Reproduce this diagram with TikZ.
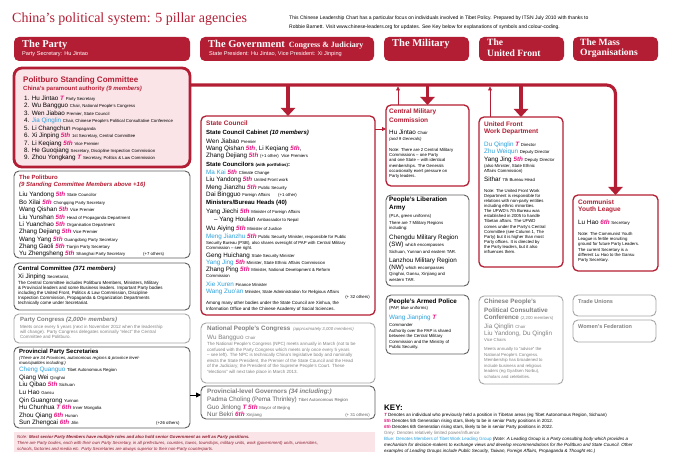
\documentclass[tikz,border=0pt]{standalone}
\usepackage{fontspec}
\setmainfont{Liberation Serif}
\setsansfont{Liberation Sans}
\usetikzlibrary{arrows.meta}
\definecolor{cred}{RGB}{180,30,52}
\definecolor{cpink}{RGB}{251,228,232}
\definecolor{cmag}{RGB}{228,20,128}
\definecolor{cblue}{RGB}{40,160,220}
\definecolor{cgray}{RGB}{128,128,128}
\definecolor{cdgray}{RGB}{95,95,95}
\definecolor{cnote}{RGB}{140,30,45}
\newcommand\zN{\fontsize{6.3}{7}\selectfont}
\newcommand\zD{\fontsize{4.3}{5}\selectfont}
\newcommand\Tm{{\color{cmag}\bfseries\itshape T}}
\newcommand\Vth{{\color{cmag}\bfseries\itshape 5th}}
\newcommand\VIth{{\color{cmag}\bfseries\itshape 6th}}
\newcommand\Lx[4]{\node[lx] (#1) at (#2,#3) {#4};}
\newcommand\Px[5]{\node[px,#5] (#1) at (#2,#3) {#4};}
\newcommand\Bx[6]{\node[#6, minimum width={(#4-#2)*1pt}, minimum height={(#5-#3)*1pt}] (#1) at ({(#2+#4)/2},{(#3+#5)/2}) {};}
\tikzset{
  lx/.style={anchor=west, inner sep=0pt, font=\sffamily\zN},
  px/.style={anchor=north west, inner sep=0pt, align=left, yshift=1.8pt, font=\sffamily\fontsize{4.5}{5.2}\selectfont},
  hd/.style={anchor=west, inner sep=0pt, font=\sffamily\bfseries\fontsize{6.5}{7}\selectfont, text=cred},
  hw/.style={anchor=west, inner sep=0pt, font=\rmfamily\bfseries\fontsize{10.5}{12}\selectfont, text=white},
  hw2/.style={anchor=west, inner sep=0pt, font=\rmfamily\bfseries\fontsize{9.6}{10}\selectfont, text=white},
  hs/.style={anchor=west, inner sep=0pt, font=\sffamily\fontsize{5.6}{6}\selectfont, text=white},
  basebox/.style={rectangle, inner sep=0pt, outer sep=0pt},
  hbox/.style={basebox, fill=cred, rounded corners=5pt},
  rbox/.style={basebox, draw=cred, line width=1.3pt, rounded corners=5pt, fill=white},
  pscb/.style={basebox, draw=cred, line width=2.8pt, rounded corners=8pt, fill=cpink},
  dbox/.style={basebox, draw=cdgray, line width=0.9pt, rounded corners=5pt, fill=white},
  gbox/.style={basebox, draw=black!35, line width=0.9pt, rounded corners=5pt, fill=white},
  nbox/.style={basebox, fill=cpink},
  mainline/.style={draw=cred, line width=3.2pt},
  bigarr/.style={mainline, -{Triangle[width=14pt,length=8pt]}},
  thinarr/.style={draw=cred, line width=0.8pt, -{Triangle[width=4pt,length=4pt]}}
}
\begin{document}
\begin{tikzpicture}[x=1pt,y=-1pt]
\useasboundingbox (0,0) rectangle (675,465);
\fill[white] (0,0) rectangle (675,465);

% title and info
\node[anchor=west, inner sep=0pt, font=\rmfamily\fontsize{14}{16}\selectfont, text=cred] (title) at (12,19) {China’s political system: 5 pillar agencies};
\Px{info}{289}{17}{This Chinese Leadership Chart has a particular focus on individuals involved in Tibet Policy. Prepared by ITSN July 2010 with thanks to\\Robbie Barnett. Visit www.chinese-leaders.org for updates. See Key below for explanations of symbols and colour-coding.}{font=\sffamily\fontsize{5}{9}\selectfont}

% header boxes
\Bx{hParty}{14}{37}{190}{61}{hbox}
\Bx{hGov}{200}{37}{374}{61}{hbox}
\Bx{hMil}{384}{37}{469}{61}{hbox}
\Bx{hUF}{479}{37}{564}{61}{hbox}
\Bx{hMass}{573}{37}{658}{61}{hbox}
\node[hw] (tParty) at (22,45) {The Party};
\node[hs] (sParty) at (22,54) {Party Secretary: Hu Jintao};
\node[hw] (tGov) at (208,45) {The Government\hspace{4pt}{\fontsize{8}{9}\selectfont Congress \& Judiciary}};
\node[hs] (sGov) at (209,54) {State President: Hu Jintao, Vice President: Xi Jinping};
\node[hw] (tMil) at (392,44) {The Military};
\node[hw2] (tUF1) at (487,42.5) {The};
\node[hw2] (tUF2) at (487,52.8) {United Front};
\node[hw2] (tMa1) at (580,42.5) {The Mass};
\node[hw2] (tMa2) at (580,52.8) {Organisations};

% content boxes
\Bx{psc}{14}{68}{190}{167}{pscb}
\Bx{pb}{14}{171}{190}{258}{dbox}
\Bx{cc}{14}{263}{190}{310}{dbox}
\Bx{pc}{14}{314}{190}{343}{gbox}
\Bx{pps}{14}{347}{190}{428}{dbox}
\Bx{note}{14}{432}{375}{452}{nbox}
\Bx{sc}{201}{116}{375}{315}{rbox}
\Bx{npc}{201}{323}{375}{383}{gbox}
\Bx{gov}{201}{386}{375}{419}{dbox}
\Bx{cmc}{386}{105}{469}{186}{rbox}
\Bx{pla}{386}{195}{469}{286}{dbox}
\Bx{pap}{386}{295}{469}{354}{dbox}
\Bx{ufwd}{479}{117}{563}{267}{rbox}
\Bx{cppcc}{479}{296}{563}{384}{gbox}
\Bx{cyl}{573}{195}{658}{271}{rbox}
\Bx{tu}{573}{295}{656}{316}{gbox}
\Bx{wf}{573}{320}{656}{342}{gbox}

% connectors
\coordinate (hub) at (psc.east |- 0,85);
\draw[mainline, rounded corners=9pt, -{Triangle[width=14pt,length=8pt]}] ([xshift=-1pt]hub) -| (cyl.north);
\draw[bigarr] (sc.north |- hub) -- (sc.north);
\draw[bigarr] (cmc.north |- hub) -- (cmc.north);
\draw[bigarr] (ufwd.north |- hub) -- (ufwd.north);
\coordinate (cmcup) at (398,105);
\draw[thinarr, shorten >=1.5pt] (cmcup) -- (cmcup |- hub);
\coordinate (ufup) at (490,117);
\draw[thinarr, shorten >=1.5pt] (ufup) -- (ufup |- hub);
\coordinate (scr) at (sc.east |- 0,129);
\draw[thinarr] (scr) -- (cmc.west |- scr);
\coordinate (ppsr) at (pps.east |- 0,395);
\draw[black, line width=0.8pt, -{Triangle[width=5pt,length=5pt]}] (ppsr) -- (gov.west |- ppsr);

% Politburo Standing Committee
\node[hd, font=\sffamily\bfseries\fontsize{8}{9}\selectfont] (pscT) at (23,80) {Politburo Standing Committee};
\node[hd, font=\sffamily\bfseries\fontsize{6}{7}\selectfont] (pscS) at (23,89) {China’s paramount authority \textit{(9 members)}};
\Lx{p1}{24}{99}{1. Hu Jintao \Tm\ \zD Party Secretary}
\Lx{p2}{24}{106.4}{2. Wu Bangguo \zD Chair, National People’s Congress}
\Lx{p3}{24}{113.8}{3. Wen Jiabao \zD Premier, State Council}
\Lx{p4}{24}{121.2}{4. {\color{cblue}Jia Qinglin} \zD Chair, Chinese People’s Political Consultative Conference}
\Lx{p5}{24}{128.6}{5. Li Changchun \zD Propaganda}
\Lx{p6}{24}{136}{6. Xi Jinping \Vth\ \zD 1st Secretary, Central Committee}
\Lx{p7}{24}{143.4}{7. Li Keqiang \Vth\ \zD Vice Premier}
\Lx{p8}{24}{150.8}{8. He Guoqiang \zD Secretary, Discipline Inspection Commission}
\Lx{p9}{24}{158.2}{9. Zhou Yongkang \Tm\ \zD Secretary, Politics \& Law Commission}

% Politburo
\node[hd, font=\sffamily\bfseries\fontsize{6}{7}\selectfont] (pbT) at (19,177) {The Politburo};
\node[hd, font=\sffamily\bfseries\itshape\fontsize{6}{7}\selectfont] (pbS) at (19,185) {(9 Standing Committee Members above +16)};
\Lx{b1}{19}{195}{Liu Yandong \Vth\ \zD State Councilor}
\Lx{b2}{19}{202.4}{Bo Xilai \Vth\ \zD Chongqing Party Secretary}
\Lx{b3}{19}{209.8}{Wang Qishan \Vth\ \zD Vice Premier}
\Lx{b4}{19}{217.2}{Liu Yunshan \Vth\ \zD Head of Propaganda Department}
\Lx{b5}{19}{224.6}{Li Yuanchao \Vth\ \zD Organisation Department}
\Lx{b6}{19}{232}{Zhang Dejiang \Vth\ \zD Vice Premier}
\Lx{b7}{19}{239.4}{Wang Yang \Vth\ \zD Guangdong Party Secretary}
\Lx{b8}{19}{246.8}{Zhang Gaoli \Vth\ \zD Tianjin Party Secretary}
\Lx{b9}{19}{254.2}{Yu Zhengsheng \Vth\ \zD Shanghai Party Secretary}
\node[lx, font=\sffamily\zD] (b10) at (143,254.2) {(+7 others)};

% Central Committee
\node[hd, text=black, font=\sffamily\bfseries\fontsize{6}{7}\selectfont] (ccT) at (18,269) {Central Committee \textit{(371 members)}};
\Lx{cc1}{18}{277}{Xi Jinping \zD Secretariat,}
\Px{ccB}{18}{283}{The Central Committee includes Politburo Members, Ministers, Military\\\& Provincial leaders and some Business leaders. Important Party bodies\\including the United Front, Politics \& Law Commission, Discipline\\Inspection Commission, Propaganda \& Organization Departments\\technically come under Secretariat.}{font=\sffamily\fontsize{4.5}{5}\selectfont}

% Party Congress
\node[hd, text=cgray, font=\sffamily\bfseries\fontsize{6}{7}\selectfont] (pcT) at (20,320) {Party Congress \textit{(2,000+ members)}};
\Px{pcB}{20}{327}{Meets once every 5 years (next in November 2012 when the leadership\\will change). Party Congress delegates nominally “elect” the Central\\Committee and Politburo.}{text=cgray, font=\sffamily\fontsize{4.5}{5}\selectfont}

% Provincial Party Secretaries
\node[hd, text=black, font=\sffamily\bfseries\fontsize{6}{7}\selectfont] (ppsT) at (19,352) {Provincial Party Secretaries};
\Px{ppsS}{19}{358}{(There are 34 Provinces, autonomous regions \& province level-\\municipalities including:)}{font=\sffamily\itshape\fontsize{4.3}{5}\selectfont}
\Lx{s1}{19}{370}{{\color{cblue}Cheng Quanguo} \zD Tibet Autonomous Region}
\Lx{s2}{19}{377.6}{Qiang Wei \zD Qinghai}
\Lx{s3}{19}{385.2}{Liu Qibao \Vth\ \zD Sichuan}
\Lx{s4}{19}{392.8}{Lu Hao \zD Gansu}
\Lx{s5}{19}{400.4}{Qin Guangrong \zD Yunnan}
\Lx{s6}{19}{408}{Hu Chunhua \Tm\ \VIth\ \zD Inner Mongolia}
\Lx{s7}{19}{415.6}{Zhou Qiang \VIth\ \zD Hunan}
\Lx{s8}{19}{423.2}{Sun Zhengcai \VIth\ \zD Jilin}
\node[lx, font=\sffamily\zD] (s9) at (156,423.2) {(+26 others)};

% Note
\Px{noteT}{17}{437}{Note: \textbf{Most senior Party Members have multiple roles and also hold senior Government as well as Party positions.}\\There are Party bodies, each with their own Party Secretary, in all prefectures, counties, towns, townships, military units, work (government) units, universities,\\schools, factories and media etc. Party Secretaries are always superior to their non-Party counterparts.}{text=cnote, font=\sffamily\itshape\fontsize{4.3}{6}\selectfont}

% State Council
\node[hd] (scT) at (206,123) {State Council};
\node[hd, text=black, font=\sffamily\bfseries\fontsize{6}{7}\selectfont] (scS) at (206,133) {State Council Cabinet \textit{(10 members)}};
\Lx{g1}{206}{141}{Wen Jiabao \zD Premier}
\Lx{g2}{206}{148.5}{Wang Qishan \Vth, Li Keqiang \Vth,}
\Lx{g3}{206}{156}{Zhang Dejiang \Vth\ \zD (+1 other)\ \ Vice Premiers}
\node[hd, text=black, font=\sffamily\bfseries\fontsize{6}{7}\selectfont] (g4) at (206,165) {State Councilors {\zD(with portfolios)}:};
\Lx{g5}{206}{172.5}{{\color{cblue}Ma Kai} \Vth\ \zD Climate Change}
\Lx{g6}{206}{180}{Liu Yandong \Vth\ \zD United Front work}
\Lx{g7}{206}{187.5}{Meng Jianzhu \Vth\ \zD Public Security}
\Lx{g8}{206}{195}{Dai Bingguo \zD Foreign Affairs\hspace{8pt}(+1 other)}
\node[hd, text=black, font=\sffamily\bfseries\fontsize{6}{7}\selectfont] (g9) at (206,203) {Ministers/Bureau Heads (40)};
\Lx{g10}{206}{212}{Yang Jiechi \Vth\ \zD Minister of Foreign Affairs}
\Lx{g11}{214}{220}{– Yang Houlan \zD Ambassador to Nepal}
\Lx{g12}{206}{228.5}{Wu Aiying \Vth\ \zD Minister of Justice}
\Lx{g13}{206}{237}{{\color{cblue}Meng Jianzhu} \Vth\ \zD Public Security Minister, responsible for Public}
\Px{g14}{206}{243}{Security Bureau (PSB), also shares oversight of PAP with Central Military\\Commission – see right.}{font=\sffamily\fontsize{4.3}{5.2}\selectfont}
\Lx{g15}{206}{256}{Geng Huichang \zD State Security Minister}
\Lx{g16}{206}{263}{{\color{cblue}Yang Jing} \Vth\ \zD Minister, State Ethnic Affairs Commission}
\Lx{g17}{206}{270}{Zhang Ping \Vth\ \zD Minister, National Development \& Reform}
\Px{g18}{206}{276}{Commission}{font=\sffamily\fontsize{4.3}{5.2}\selectfont}
\Lx{g19}{206}{284}{{\color{cblue}Xie Xuren} \zD Finance Minister}
\Lx{g20}{206}{291.5}{{\color{cblue}Wang Zuo’an} \zD Minister, State Administration for Religious Affairs}
\node[lx, anchor=east, font=\sffamily\zD] (g21) at (370,297) {(+ 32 others)};
\Px{g22}{206}{303}{Among many other bodies under the State Council are Xinhua, the\\Information Office and the Chinese Academy of Social Sciences.}{font=\sffamily\fontsize{4.5}{6}\selectfont}

% NPC
\node[hd, text=cgray, font=\sffamily\bfseries\fontsize{6.3}{7}\selectfont] (npcT) at (207,329) {National People’s Congress \,{\zD\mdseries\itshape (approximately 3,000 members)}};
\Lx{npc1}{207}{338}{\color{cgray}Wu Bangguo \zD Chair}
\Px{npcB}{207}{344}{The National People’s Congress (NPC) meets annually in March (not to be\\confused with the Party Congress which meets only once every 5 years\\– see left). The NPC is technically China’s legislative body and nominally\\elects the State President, the Premier of the State Council and the Head\\of the Judiciary; the President of the Supreme People’s Court. These\\“elections” will next take place in March 2013.}{text=cgray, font=\sffamily\fontsize{4.5}{5.55}\selectfont}

% Governors
\node[hd, text=cgray, font=\sffamily\bfseries\fontsize{6.3}{7}\selectfont] (govT) at (207,392) {Provincial-level Governors \textit{(34 including:)}};
\Lx{gv1}{207}{400}{\color{cdgray}Padma Choling (Pema Thrinley) \zD Tibet Autonomous Region}
\Lx{gv2}{207}{407.5}{{\color{cdgray}Guo Jinlong} \Tm\ \Vth\ \zD\color{cdgray} Mayor of Beijing}
\Lx{gv3}{207}{415}{{\color{cdgray}Nur Bekri} \VIth\ \zD\color{cdgray} Xinjiang}
\node[lx, anchor=east, text=cdgray, font=\sffamily\zD] (gv4) at (370,415) {(+ 31 others)};

% CMC
\node[hd] (cmcT1) at (389,112) {Central Military};
\node[hd] (cmcT2) at (389,120) {Commission};
\Lx{cm1}{389}{132}{Hu Jintao \zD Chair}
\Px{cm2}{389}{139}{(and 9 Generals)}{font=\sffamily\itshape\fontsize{4.3}{5}\selectfont}
\Px{cmB}{389}{150}{Note: There are 2 Central Military\\Commissions – one Party\\and one State – with identical\\memberships. The Generals\\occasionally exert pressure on\\Party leaders.}{font=\sffamily\fontsize{4.3}{5.2}\selectfont}

% PLA
\node[hd, text=black, font=\sffamily\bfseries\fontsize{6.3}{7}\selectfont] (plaT1) at (389,200) {People’s Liberation};
\node[hd, text=black, font=\sffamily\bfseries\fontsize{6.3}{7}\selectfont] (plaT2) at (389,208) {Army};
\Px{pla1}{389}{216}{(PLA, green uniforms)}{font=\sffamily\fontsize{4.3}{5}\selectfont}
\Px{pla2}{389}{223}{There are 7 Military Regions\\including:}{font=\sffamily\fontsize{4.3}{5.2}\selectfont}
\Lx{pla3}{389}{238}{Chengdu Military Region}
\Lx{pla4}{389}{245}{(SW) \zD which encompasses}
\Px{pla5}{389}{252}{Sichuan, Yunnan and eastern TAR.}{font=\sffamily\fontsize{4.3}{5.2}\selectfont}
\Lx{pla6}{389}{261}{Lanzhou Military Region}
\Lx{pla7}{389}{268}{(NW) \zD which encompasses}
\Px{pla8}{389}{274}{Qinghai, Gansu, Xinjiang and\\western TAR.}{font=\sffamily\fontsize{4.3}{6}\selectfont}

% PAP
\node[hd, text=black, font=\sffamily\bfseries\fontsize{6.3}{7}\selectfont] (papT) at (389,302) {People’s Armed Police};
\Px{pap1}{389}{308}{(PAP, blue uniforms)}{font=\sffamily\fontsize{4.3}{5}\selectfont}
\Lx{pap2}{389}{318}{{\color{cblue}Wang Jianping} \Tm}
\Px{pap3}{389}{325}{Commander\\Authority over the PAP is shared\\between the Central Military\\Commission and the Ministry of\\Public Security.}{font=\sffamily\fontsize{4.3}{5.5}\selectfont}

% UFWD
\node[hd] (ufT1) at (484,124) {United Front};
\node[hd] (ufT2) at (484,132) {Work Department};
\Lx{uf1}{484}{145}{{\color{cblue}Du Qinglin} \Tm\ \zD Director}
\Lx{uf2}{484}{152}{{\color{cblue}Zhu Weiqun} \zD Deputy Director}
\Lx{uf3}{484}{160}{Yang Jing \Vth\ \zD Deputy Director}
\Px{uf4}{484}{166}{(also Minister, State Ethnic\\Affairs Commission)}{font=\sffamily\fontsize{4.3}{5}\selectfont}
\Lx{uf5}{484}{179}{Sithar \zD 7th Bureau Head}
\Px{ufB}{484}{191}{Note: The United Front Work\\Department is responsible for\\relations with non-party entities\\including ethnic minorities.\\The UFWD’s 7th Bureau was\\established in 2005 to handle\\Tibetan affairs. The UFWD\\comes under the Party’s Central\\Committee (see Column 1, The\\Party) but it is higher than most\\Party offices. It is directed by\\the Party leaders, but it also\\influences them.}{font=\sffamily\fontsize{4.3}{5.08}\selectfont}

% CPPCC
\node[hd, text=cgray, font=\sffamily\bfseries\fontsize{6.3}{7}\selectfont] (cpT1) at (484,302) {Chinese People’s};
\node[hd, text=cgray, font=\sffamily\bfseries\fontsize{6.3}{7}\selectfont] (cpT2) at (484,310) {Political Consultative};
\node[hd, text=cgray, font=\sffamily\bfseries\fontsize{6.3}{7}\selectfont] (cpT3) at (484,318) {Conference {\zD\mdseries(2,200 members)}};
\Lx{cp1}{484}{327}{\color{cgray}Jia Qinglin \zD Chair}
\Lx{cp2}{484}{334}{\color{cgray}Liu Yandong, Du Qinglin}
\Px{cp3}{484}{340}{Vice Chairs}{text=cgray, font=\sffamily\fontsize{4.3}{5}\selectfont}
\Px{cpB}{484}{349}{Meets annually to “advise” the\\National People’s Congress.\\Membership has broadened to\\include business and religious\\leaders (eg Gyaltsen Norbu),\\scholars and celebrities.}{text=cgray, font=\sffamily\fontsize{4.3}{5.6}\selectfont}

% CYL
\node[hd] (cyT1) at (578,202) {Communist};
\node[hd] (cyT2) at (578,210) {Youth League};
\Lx{cy1}{578}{223}{Lu Hao \VIth\ \zD Secretary}
\Px{cyB}{578}{234}{Note: The Communist Youth\\League is fertile recruiting\\ground for future Party Leaders.\\The current Secretary is a\\different Lu Hao to the Gansu\\Party Secretary.}{font=\sffamily\fontsize{4.3}{5.2}\selectfont}

% Trade unions, Women's federation
\node[hd, text=cgray, font=\sffamily\bfseries\fontsize{5.5}{6}\selectfont] (tuT) at (578,302) {Trade Unions};
\node[hd, text=cgray, font=\sffamily\bfseries\fontsize{5.5}{6}\selectfont] (wfT) at (578,327) {Women’s Federation};

% Key
\node[hd, text=black, font=\sffamily\bfseries\fontsize{8}{9}\selectfont] (keyT) at (384,408) {KEY:};
\Px{k1}{384}{415}{\Tm\ Denotes an individual who previously held a position in Tibetan areas (eg Tibet Autonomous Region, Sichuan)\\\Vth\ Denotes 5th Generation rising stars, likely to be in senior Party positions in 2012.\\\VIth\ Denotes 6th Generation rising stars, likely to be in senior Party positions in 2022.\\{\color{cgray}Grey: Denotes relatively limited power/influence}\\{\color{cblue}Blue: Denotes Members of Tibet Work Leading Group} \textit{(Note: A Leading Group is a Party consulting body which provides a}\\\textit{mechanism for decision-makers to exchange views and develop recommendations for the Politburo and State Council. Other}\\\textit{examples of Leading Groups include Public Security, Taiwan, Foreign Affairs, Propaganda \& Thought etc.)}}{font=\sffamily\fontsize{4.5}{5.9}\selectfont}
\end{tikzpicture}
\end{document}
